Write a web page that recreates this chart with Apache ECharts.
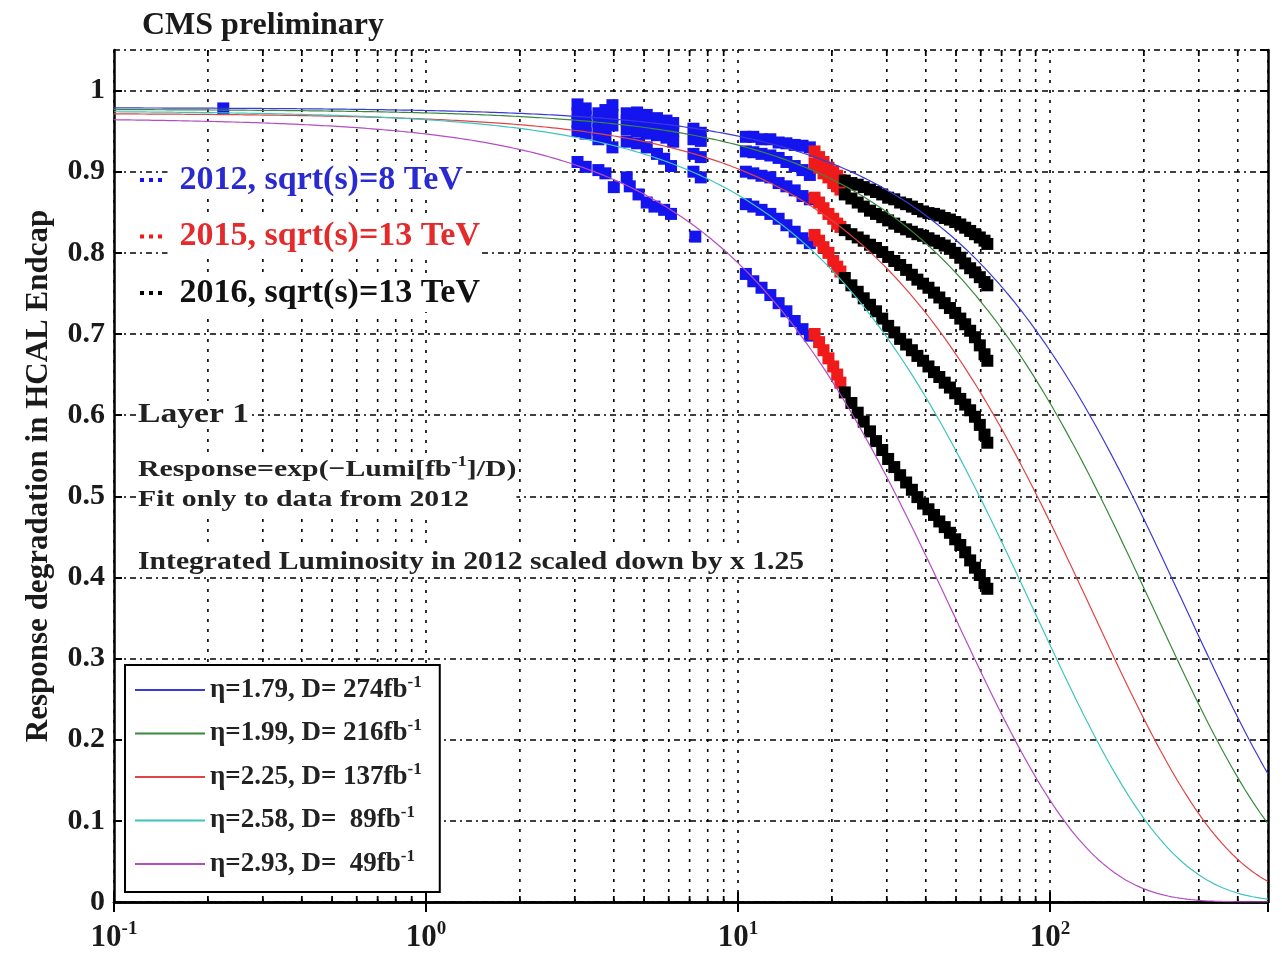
<!DOCTYPE html>
<html>
<head>
<meta charset="utf-8">
<title>HCAL Endcap response degradation</title>
<script src="https://cdn.jsdelivr.net/npm/echarts@6/dist/echarts.min.js"></script>
<style>
  html, body { margin: 0; padding: 0; background: #fff; }
  #chart { width: 1282px; height: 953px; }
</style>
</head>
<body>
<div id="chart"></div>
<script>
// ---- Fit parameters for each pseudorapidity ring ----
const etaValues = [1.79, 1.99, 2.25, 2.58, 2.93];
const fitD = [274, 216, 137, 89, 49];              // fb^-1
const fitNorm = [0.979, 0.977, 0.972, 0.975, 0.966]; // response at zero luminosity
const fitColors = ['#3a3ad6', '#3a8a3a', '#e04444', '#3cc4c0', '#b44cc4'];

// ---- 2012 data, sqrt(s)=8 TeV: [integrated lumi (fb^-1), response] ----
const d2012_eta179 = [[0.224, 0.978], [3.06, 0.983], [3.25, 0.978], [3.57, 0.972], [3.76, 0.976], [3.96, 0.982],
  [4.4, 0.972], [4.75, 0.973], [5.1, 0.97], [5.5, 0.966], [5.9, 0.963], [6.2, 0.96], [7.2, 0.953], [7.6, 0.948],
  [10.6, 0.943], [11.2, 0.943], [11.9, 0.94], [12.7, 0.94], [13.5, 0.936], [14.3, 0.935], [15.2, 0.933], [16.1, 0.932], [17.0, 0.93]];
const d2012_eta199 = [[3.06, 0.972], [3.25, 0.968], [3.57, 0.962], [3.76, 0.965], [3.96, 0.97],
  [4.4, 0.963], [4.75, 0.962], [5.1, 0.958], [5.5, 0.957], [5.9, 0.955], [6.2, 0.95], [7.2, 0.94], [7.6, 0.938],
  [10.6, 0.925], [11.2, 0.924], [11.9, 0.922], [12.7, 0.92], [13.5, 0.917], [14.3, 0.912], [15.2, 0.907], [16.1, 0.902], [17.0, 0.896]];
const d2012_eta225 = [[3.06, 0.961], [3.25, 0.957], [3.57, 0.952], [3.76, 0.953], [3.96, 0.957],
  [4.4, 0.952], [4.75, 0.95], [5.1, 0.947], [5.5, 0.945], [5.9, 0.942], [6.2, 0.937], [7.2, 0.922], [7.6, 0.918],
  [10.6, 0.9], [11.2, 0.898], [11.9, 0.895], [12.7, 0.893], [13.5, 0.886], [14.3, 0.882], [15.2, 0.877], [16.1, 0.87], [17.0, 0.866]];
const d2012_eta258 = [[3.06, 0.95], [3.25, 0.947], [3.57, 0.94], [3.76, 0.942], [3.96, 0.93],
  [4.4, 0.937], [4.75, 0.935], [5.1, 0.93], [5.5, 0.922], [5.8, 0.916], [6.1, 0.907], [7.2, 0.9], [7.6, 0.893],
  [10.6, 0.86], [11.2, 0.857], [11.9, 0.853], [12.7, 0.848], [13.5, 0.842], [14.3, 0.834], [15.2, 0.826], [16.1, 0.818], [17.0, 0.812]];
const d2012_eta293 = [[3.06, 0.912], [3.25, 0.906], [3.57, 0.902], [3.76, 0.898], [4.0, 0.881],
  [4.4, 0.893], [4.5, 0.882], [4.8, 0.872], [5.1, 0.862], [5.4, 0.857], [5.8, 0.853], [6.1, 0.848], [7.3, 0.82],
  [10.6, 0.774], [11.2, 0.765], [11.9, 0.757], [12.7, 0.748], [13.5, 0.738], [14.3, 0.728], [15.2, 0.716], [16.1, 0.706], [17.0, 0.698]];

// ---- 2015 data, sqrt(s)=13 TeV ----
const lumi2015 = [17.6, 18.2, 18.8, 19.5, 20.2, 20.8, 21.3];
const r2015_eta179 = [0.925, 0.918, 0.912, 0.905, 0.9, 0.895, 0.89];
const r2015_eta199 = [0.91, 0.905, 0.898, 0.893, 0.886, 0.882, 0.878];
const r2015_eta225 = [0.868, 0.862, 0.855, 0.848, 0.842, 0.836, 0.832];
const r2015_eta258 = [0.822, 0.815, 0.807, 0.8, 0.79, 0.783, 0.777];
const r2015_eta293 = [0.70, 0.69, 0.68, 0.67, 0.66, 0.65, 0.64];

// ---- 2016 data, sqrt(s)=13 TeV ----
const lumi2016 = [22.0, 23.1, 24.2, 25.3, 26.5, 27.7, 29.0, 30.3, 31.7, 33.1, 34.6, 36.1, 37.6, 39.2,
  40.8, 42.5, 44.2, 46.0, 47.8, 49.7, 51.6, 53.5, 55.5, 57.5, 59.6, 61.7, 63.0];
const r2016_eta179 = [0.889, 0.886, 0.884, 0.881, 0.878, 0.875, 0.872, 0.868, 0.866, 0.862, 0.86, 0.857, 0.854, 0.851,
  0.849, 0.848, 0.846, 0.843, 0.841, 0.838, 0.835, 0.831, 0.827, 0.823, 0.819, 0.815, 0.811];
const r2016_eta199 = [0.872, 0.867, 0.862, 0.857, 0.852, 0.848, 0.844, 0.84, 0.836, 0.832, 0.829, 0.826, 0.823, 0.821,
  0.818, 0.815, 0.812, 0.809, 0.805, 0.8, 0.794, 0.787, 0.781, 0.776, 0.77, 0.764, 0.76];
const r2016_eta225 = [0.828, 0.823, 0.819, 0.815, 0.81, 0.806, 0.801, 0.795, 0.79, 0.785, 0.779, 0.773, 0.767, 0.762,
  0.757, 0.751, 0.745, 0.738, 0.732, 0.726, 0.719, 0.712, 0.704, 0.696, 0.686, 0.675, 0.667];
const r2016_eta258 = [0.769, 0.76, 0.752, 0.744, 0.736, 0.728, 0.719, 0.71, 0.702, 0.694, 0.687, 0.68, 0.673, 0.667,
  0.66, 0.653, 0.647, 0.64, 0.634, 0.627, 0.62, 0.613, 0.606, 0.598, 0.588, 0.576, 0.566];
const r2016_eta293 = [0.628, 0.615, 0.603, 0.592, 0.58, 0.568, 0.557, 0.546, 0.536, 0.526, 0.517, 0.508, 0.499, 0.491,
  0.484, 0.477, 0.469, 0.462, 0.455, 0.447, 0.44, 0.431, 0.421, 0.412, 0.403, 0.393, 0.386];

// ---- Axes ----
const lumiMin = 0.1, lumiMax = 500;
const responseTicks = [0, 0.1, 0.2, 0.3, 0.4, 0.5, 0.6, 0.7, 0.8, 0.9, 1];
const minorLumiTicks = [0.2, 0.3, 0.4, 0.5, 0.6, 0.7, 0.8, 0.9, 2, 3, 4, 5, 6, 7, 8, 9,
  20, 30, 40, 50, 60, 70, 80, 90, 200, 300, 400];

const yearNames = ['2012, sqrt(s)=8 TeV', '2015, sqrt(s)=13 TeV', '2016, sqrt(s)=13 TeV'];
const yearColors = ['#1414ee', '#f01a1a', '#000000'];
const yearTextColors = ['#2a2ad2', '#e42a2a', '#111111'];

const SERIF = '"Liberation Serif", "Times New Roman", serif';

function fitName(i) {
  const d = String(fitD[i]).padStart(3, ' ');
  return 'η=' + etaValues[i].toFixed(2) + ', D= ' + d + 'fb⁻¹';
}

// exp(-Lumi/D) fit curves, sampled along the log luminosity axis
const curveLumi = [];
for (let i = 0; i <= 300; i++) {
  curveLumi.push(Math.pow(10, Math.log10(lumiMin) + i * (Math.log10(lumiMax) - Math.log10(lumiMin)) / 300));
}
const fitSeries = fitD.map((D, i) => ({
  name: fitName(i),
  type: 'line',
  color: fitColors[i],
  showSymbol: false,
  symbol: 'none',
  silent: true,
  z: 6,
  lineStyle: { width: 1.2, color: fitColors[i] },
  data: curveLumi.map(L => [L, fitNorm[i] * Math.exp(-L / D)])
}));

function pointSeries(yearIdx, data) {
  return {
    name: yearNames[yearIdx],
    type: 'scatter',
    symbol: 'rect',
    symbolSize: 12,
    color: yearColors[yearIdx],
    itemStyle: { color: yearColors[yearIdx], opacity: 1 },
    silent: true,
    z: 4,
    data: data
  };
}
const zip = (xs, ys) => xs.map((x, k) => [x, ys[k]]);

const pointSeriesList = [
  pointSeries(0, d2012_eta179), pointSeries(0, d2012_eta199), pointSeries(0, d2012_eta225),
  pointSeries(0, d2012_eta258), pointSeries(0, d2012_eta293),
  pointSeries(1, zip(lumi2015, r2015_eta179)), pointSeries(1, zip(lumi2015, r2015_eta199)),
  pointSeries(1, zip(lumi2015, r2015_eta225)), pointSeries(1, zip(lumi2015, r2015_eta258)),
  pointSeries(1, zip(lumi2015, r2015_eta293)),
  pointSeries(2, zip(lumi2016, r2016_eta179)), pointSeries(2, zip(lumi2016, r2016_eta199)),
  pointSeries(2, zip(lumi2016, r2016_eta225)), pointSeries(2, zip(lumi2016, r2016_eta258)),
  pointSeries(2, zip(lumi2016, r2016_eta293))
];

// Minor decade grid lines (2..9 x 10^k) with short ticks on the bottom and top frame
const minorGridSeries = {
  type: 'custom',
  silent: true,
  z: 1,
  clip: false,
  data: minorLumiTicks.map(v => [v, 0.5]),
  encode: { x: 0, y: 1 },
  renderItem: function (params, api) {
    const x = api.coord([api.value(0), api.value(1)])[0];
    const cs = params.coordSys;
    const top = cs.y, bottom = cs.y + cs.height;
    return {
      type: 'group',
      children: [
        { type: 'line', shape: { x1: x, y1: bottom, x2: x, y2: top },
          style: { stroke: '#000', lineWidth: 1.6, lineDash: [3, 7] } },
        { type: 'line', shape: { x1: x, y1: bottom, x2: x, y2: bottom - 6 },
          style: { stroke: '#000', lineWidth: 1.8 } },
        { type: 'line', shape: { x1: x, y1: top, x2: x, y2: top + 6 },
          style: { stroke: '#000', lineWidth: 1.8 } }
      ]
    };
  }
};

const chart = echarts.init(document.getElementById('chart'), null, { renderer: 'canvas' });

const frameLine = { show: true, lineStyle: { color: '#000', width: 2.5 } };

chart.setOption({
  backgroundColor: '#fff',
  animation: false,
  title: {
    text: 'CMS preliminary',
    left: 137, top: 5,
    textStyle: { fontFamily: SERIF, fontSize: 32, fontWeight: 'bold', color: '#1a1a1a' }
  },
  grid: { left: 114, right: 14, top: 50, bottom: 50, containLabel: false },
  xAxis: [{
    type: 'log', logBase: 10, min: lumiMin, max: lumiMax, interval: 1,
    position: 'bottom',
    axisLine: frameLine,
    axisTick: { show: true, inside: true, length: 10, lineStyle: { color: '#000', width: 2 } },
    minorTick: { show: false },
    splitLine: { show: true, lineStyle: { color: '#000', width: 1.6, type: [3, 7] } },
    axisLabel: {
      margin: 18,
      showMaxLabel: false,
      formatter: v => '{b|10}{e|' + Math.round(Math.log10(v)) + '}',
      rich: {
        b: { fontFamily: SERIF, fontSize: 31, fontWeight: 'bold', color: '#1a1a1a' },
        e: { fontFamily: SERIF, fontSize: 19, fontWeight: 'bold', color: '#1a1a1a', verticalAlign: 'top', padding: [0, 0, 16, 0] }
      }
    }
  }, {
    type: 'log', logBase: 10, min: lumiMin, max: lumiMax, interval: 1,
    position: 'top',
    axisLine: frameLine,
    axisTick: { show: true, inside: true, length: 10, lineStyle: { color: '#000', width: 2 } },
    axisLabel: { show: false },
    splitLine: { show: false }
  }],
  yAxis: [{
    type: 'value', min: 0, max: 1.05, interval: 0.1,
    position: 'left',
    axisLine: frameLine,
    axisTick: { show: true, inside: true, length: 8, lineStyle: { color: '#000', width: 2 } },
    splitLine: { show: true, lineStyle: { color: '#000', width: 1.5, type: [6, 4, 2, 4] } },
    axisLabel: {
      margin: 9,
      showMaxLabel: false,
      fontFamily: SERIF, fontSize: 30, fontWeight: 'bold', color: '#1a1a1a',
      formatter: v => {
        const hit = responseTicks.find(t => Math.abs(t - v) < 1e-6);
        return hit === undefined ? '' : String(hit);
      }
    },
    name: 'Response degradation in HCAL Endcap',
    nameLocation: 'middle',
    nameGap: 60,
    nameTextStyle: { fontFamily: SERIF, fontSize: 31, fontWeight: 'bold', color: '#1a1a1a' }
  }, {
    type: 'value', min: 0, max: 1.05, interval: 0.1,
    position: 'right',
    axisLine: frameLine,
    axisTick: { show: true, inside: true, length: 8, lineStyle: { color: '#000', width: 2 } },
    axisLabel: { show: false },
    splitLine: { show: false }
  }],
  legend: [{
    // fit curves
    data: fitD.map((_, i) => fitName(i)),
    selectedMode: false,
    orient: 'vertical',
    left: 125, top: 665,
    padding: [9, 18, 12, 10],
    itemGap: 11.5,
    itemWidth: 70, itemHeight: 2,
    icon: 'rect',
    backgroundColor: '#fff',
    borderColor: '#000', borderWidth: 2,
    formatter: name => name.replace('⁻¹', '{sup|-1}'),
    textStyle: {
      fontFamily: SERIF, fontSize: 27, fontWeight: 'bold', color: '#222', lineHeight: 32,
      rich: {
        sup: { fontFamily: SERIF, fontSize: 17, fontWeight: 'bold', color: '#222', verticalAlign: 'top', padding: [0, 0, 12, 0] }
      }
    }
  }, {
    // data-taking periods
    data: yearNames.map((n, i) => ({ name: n, textStyle: { color: yearTextColors[i] } })),
    selectedMode: false,
    orient: 'vertical',
    left: 140, top: 161,
    padding: 0,
    itemGap: 18.5,
    itemWidth: 23, itemHeight: 4,
    icon: 'path://M0,0h4v4h-4zM9,0h4v4h-4zM18,0h4v4h-4z',
    textStyle: {
      fontFamily: SERIF, fontSize: 34, fontWeight: 'bold', lineHeight: 38,
      backgroundColor: '#fff', padding: [0, 2, 0, 12]
    }
  }],
  graphic: [
    {
      type: 'text', x: 138, y: 415, scaleX: 1.2, z: 100,
      style: {
        text: 'Layer 1', fontFamily: SERIF, fontSize: 28, fontWeight: 'bold', fill: '#222',
        verticalAlign: 'middle', backgroundColor: '#fff'
      }
    },
    {
      type: 'text', x: 138, y: 485, scaleX: 1.24, z: 100,
      style: {
        text: 'Response=exp(−Lumi[fb{sup|-1}]/D)\nFit only to data from 2012',
        fontFamily: SERIF, fontSize: 24, fontWeight: 'bold', fill: '#222', lineHeight: 30,
        verticalAlign: 'middle', backgroundColor: '#fff',
        rich: {
          sup: { fontFamily: SERIF, fontSize: 15, fontWeight: 'bold', fill: '#222', verticalAlign: 'top', padding: [0, 0, 10, 0] }
        }
      }
    },
    {
      type: 'text', x: 138, y: 562, scaleX: 1.14, z: 100,
      style: {
        text: 'Integrated Luminosity in 2012 scaled down by x 1.25',
        fontFamily: SERIF, fontSize: 26, fontWeight: 'bold', fill: '#222',
        verticalAlign: 'middle', backgroundColor: '#fff'
      }
    }
  ],
  series: [minorGridSeries].concat(pointSeriesList, fitSeries)
});
</script>
</body>
</html>
